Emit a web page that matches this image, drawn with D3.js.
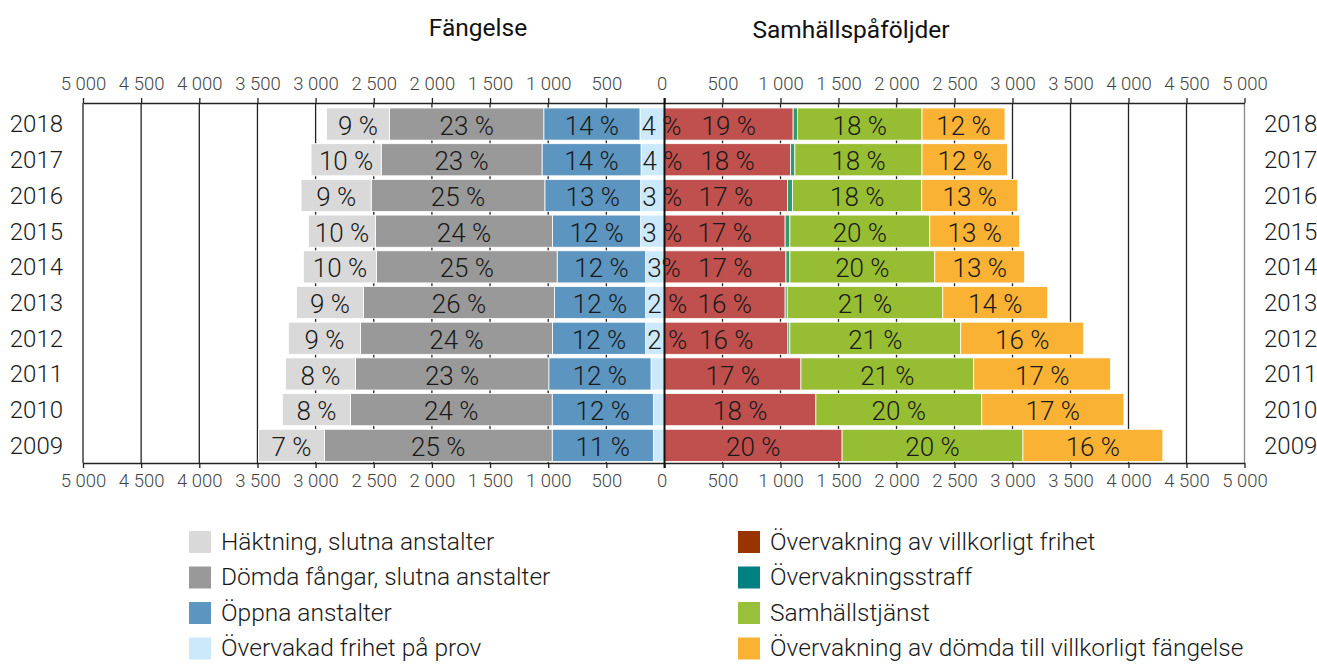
<!DOCTYPE html>
<html><head><meta charset="utf-8">
<script src="https://cdn.jsdelivr.net/npm/d3@7"></script>
<style>
html,body{margin:0;padding:0;background:#fff;}
svg{display:block;font-family:Roboto, "DejaVu Sans", sans-serif;}
</style></head>
<body><svg id="c" width="1317" height="664"></svg>
<script>
const years = ["2018","2017","2016","2015","2014","2013","2012","2011","2010","2009"];
// Fängelse (left side), ordered from centre outwards
const ovfp   = [211, 202, 205, 205, 162, 162, 162, 116, 96, 96];
const oppna  = [827, 851, 824, 758, 761, 784, 801, 879, 870, 870];
const domda  = [1326, 1383, 1493, 1522, 1553, 1642, 1651, 1662, 1734, 1958];
const hakt   = [543, 603, 603, 577, 629, 577, 620, 603, 586, 566];
// Samhällspåföljder (right side), ordered from centre outwards
const villkFrihet = [1109, 1087, 1061, 1040, 1047, 1040, 1064, 1176, 1305, 1531];
const ovStraff    = [38, 37, 43, 41, 34, 18, 17, 0, 0, 0];
const samhTjanst  = [1073, 1096, 1114, 1206, 1249, 1341, 1473, 1490, 1430, 1559];
const villkFang   = [715, 736, 827, 775, 775, 904, 1059, 1180, 1225, 1206];
// percentage labels as printed
const pctHakt   = ["9 %","10 %","9 %","10 %","10 %","9 %","9 %","8 %","8 %","7 %"];
const pctDomda  = ["23 %","23 %","25 %","24 %","25 %","26 %","24 %","23 %","24 %","25 %"];
const pctOppna  = ["14 %","14 %","13 %","12 %","12 %","12 %","12 %","12 %","12 %","11 %"];
const pctOvfp   = ["4 %","4 %","3 %","3 %","3%","2 %","2 %",null,null,null];
const pctVillkF = ["19 %","18 %","17 %","17 %","17 %","16 %","16 %","17 %","18 %","20 %"];
const pctStraff = [null,null,null,null,null,null,null,null,null,null];
const pctSamh   = ["18 %","18 %","18 %","20 %","20 %","21 %","21 %","21 %","20 %","20 %"];
const pctVillkG = ["12 %","12 %","13 %","13 %","13 %","14 %","16 %","17 %","17 %","16 %"];
const tickValues = [0,500,1000,1500,2000,2500,3000,3500,4000,4500,5000];

const leftNames  = ["Häktning, slutna anstalter","Dömda fångar, slutna anstalter","Öppna anstalter","Övervakad frihet på prov"];
const rightNames = ["Övervakning av villkorligt frihet","Övervakningsstraff","Samhällstjänst","Övervakning av dömda till villkorligt fängelse"];

const leftSeries = [
  {vals: ovfp,  pct: pctOvfp,  color: "#cce9fb", anchor: "start"},
  {vals: oppna, pct: pctOppna, color: "#5b95c0"},
  {vals: domda, pct: pctDomda, color: "#999999"},
  {vals: hakt,  pct: pctHakt,  color: "#d9d9d9"}
];
const rightSeries = [
  {vals: villkFrihet, pct: pctVillkF, color: "#c0504d"},
  {vals: ovStraff,    pct: pctStraff, color: "#33996a"},
  {vals: samhTjanst,  pct: pctSamh,   color: "#97bd33"},
  {vals: villkFang,   pct: pctVillkG, color: "#f9b233"}
];
const leftLegendColors  = ["#d9d9d9","#999999","#5b95c0","#cce9fb"];
const rightLegendColors = ["#993300","#008080","#99c03a","#f9b233"];

const svg = d3.select("#c");
const cx = 664.5;
const xL = d3.scaleLinear().domain([0,5000]).range([cx, 83]);
const xR = d3.scaleLinear().domain([0,5000]).range([cx, 1244.5]);
const y = d3.scaleBand().domain(years).range([106.2, 463.2]).paddingInner(0.1).paddingOuter(0.05);
const yTop = 103, yBot = 463;
const fmt = v => d3.format(",")(v).replace(/,/g, " ");

// gridlines
const grid = svg.append("g");
tickValues.filter(v => v > 0).forEach(v => {
  grid.append("line").attr("x1", xL(v)).attr("x2", xL(v)).attr("y1", yTop).attr("y2", yBot)
    .attr("stroke", "#222").attr("stroke-width", 1.3);
  grid.append("line").attr("x1", xR(v)).attr("x2", xR(v)).attr("y1", yTop).attr("y2", yBot)
    .attr("stroke", v === 5000 ? "#888" : "#222").attr("stroke-width", 1.3);
});

// bars
function drawSide(series, scale) {
  const g = svg.append("g");
  years.forEach((yr, i) => {
    let acc = 0;
    series.forEach(s => {
      const v = s.vals[i];
      const a = scale(acc), b = scale(acc + v);
      const x0 = Math.min(a, b), w = Math.abs(b - a);
      if (v > 0) {
        g.append("rect").attr("x", x0).attr("y", y(yr)).attr("width", w).attr("height", y.bandwidth())
          .attr("fill", s.color).attr("stroke", "#fff").attr("stroke-width", 0.8);
      }
      acc += v;
      s._pos = s._pos || [];
      s._pos[i] = {x0, w};
    });
  });
  return g;
}
drawSide(leftSeries, xL);
drawSide(rightSeries, xR);

// axes
function styleAxis(g) {
  g.select(".domain").attr("stroke", "#222").attr("stroke-width", 1.5);
  g.selectAll(".tick line").attr("stroke", "#222").attr("stroke-width", 1.3);
  g.selectAll(".tick text").attr("font-size", 18.5).attr("fill", "#444").attr("font-weight", 300)
    .attr("font-family", "Roboto, sans-serif");
}
const axTL = svg.append("g").attr("transform", `translate(0,${yTop})`)
  .call(d3.axisTop(xL).tickValues(tickValues).tickFormat(fmt).tickSize(5).tickSizeOuter(0).tickPadding(8));
styleAxis(axTL);
const axTR = svg.append("g").attr("transform", `translate(0,${yTop})`)
  .call(d3.axisTop(xR).tickValues(tickValues.filter(v => v > 0)).tickFormat(fmt).tickSize(5).tickSizeOuter(0).tickPadding(8));
styleAxis(axTR);
const axBL = svg.append("g").attr("transform", `translate(0,${yBot})`)
  .call(d3.axisBottom(xL).tickValues(tickValues).tickFormat(fmt).tickSize(5).tickSizeOuter(0).tickPadding(6));
styleAxis(axBL);
const axBR = svg.append("g").attr("transform", `translate(0,${yBot})`)
  .call(d3.axisBottom(xR).tickValues(tickValues.filter(v => v > 0)).tickFormat(fmt).tickSize(5).tickSizeOuter(0).tickPadding(6));
styleAxis(axBR);
axTL.selectAll(".tick text").filter(d => d === 0).attr("dx", -3);
axBL.selectAll(".tick text").filter(d => d === 0).attr("dx", -3);

// centre line
svg.append("line").attr("x1", cx).attr("x2", cx).attr("y1", yTop - 5).attr("y2", yBot + 5)
  .attr("stroke", "#111").attr("stroke-width", 2);

// value labels
function labels(series) {
  const g = svg.append("g").attr("font-size", 26).attr("font-weight", 300).attr("fill", "#1a1a1a");
  series.forEach(s => {
    years.forEach((yr, i) => {
      const t = s.pct[i];
      if (!t) return;
      const p = s._pos[i];
      const yy = y(yr) + y.bandwidth() / 2 + 1.5;
      if (s.anchor === "start") {
        g.append("text").attr("x", p.x0 + 1.5).attr("y", yy).attr("dy", "0.35em")
          .attr("text-anchor", "start").text(t);
      } else {
        g.append("text").attr("x", p.x0 + p.w / 2).attr("y", yy).attr("dy", "0.35em")
          .attr("text-anchor", "middle").text(t);
      }
    });
  });
}
labels(leftSeries);
labels(rightSeries);

// year labels
const yl = svg.append("g").attr("font-size", 24).attr("font-weight", 300).attr("fill", "#1a1a1a");
years.forEach(yr => {
  const yy = y(yr) + y.bandwidth() / 2;
  yl.append("text").attr("x", 63).attr("y", yy).attr("dy", "0.35em").attr("text-anchor", "end").text(yr);
  yl.append("text").attr("x", 1264).attr("y", yy).attr("dy", "0.35em").attr("text-anchor", "start").text(yr);
});

// titles
svg.append("text").attr("x", 478).attr("y", 36).attr("text-anchor", "middle")
  .attr("font-size", 24.5).attr("font-weight", 400).attr("fill", "#111").text("Fängelse");
svg.append("text").attr("x", 851).attr("y", 38).attr("text-anchor", "middle")
  .attr("font-size", 24.5).attr("font-weight", 400).attr("fill", "#111").text("Samhällspåföljder");

// legend
const lg = svg.append("g").attr("font-size", 24.5).attr("font-weight", 300).attr("fill", "#1a1a1a");
function legendCol(names, colors, sx, tx) {
  names.forEach((n, i) => {
    const cy = 542 + i * 35.5;
    lg.append("rect").attr("x", sx).attr("y", cy - 11).attr("width", 22).attr("height", 22).attr("fill", colors[i]);
    lg.append("text").attr("x", tx).attr("y", cy).attr("dy", "0.32em").text(n);
  });
}
legendCol(leftNames, leftLegendColors, 189, 221);
legendCol(rightNames, rightLegendColors, 738, 770);
</script>
</body></html>
